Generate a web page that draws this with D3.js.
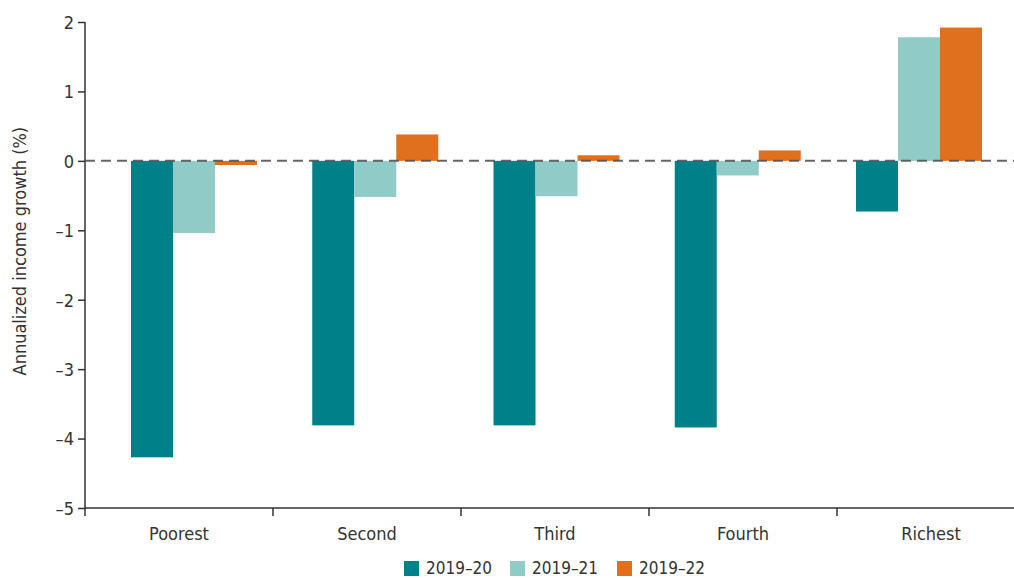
<!DOCTYPE html>
<head>
<meta charset="utf-8">
<title>Annualized income growth</title>
<script src="https://cdn.jsdelivr.net/npm/d3@7"></script>
<style>
	body { margin: 0; background: #fff; }
	svg text { font-family: "DejaVu Sans Condensed", "Liberation Sans Narrow", sans-serif; fill: #333; }
	.axis path, .axis line { stroke: #333; stroke-width: 1.5; }
</style>
</head>
<body>
<script>
var width = 1014;
var height = 578;
var margin = {top: 22, bottom: 70, left: 85, right: -11};

// data
var groups = ["Poorest", "Second", "Third", "Fourth", "Richest"];
var series = ["2019–20", "2019–21", "2019–22"];
var v2020 = [-4.27, -3.81, -3.81, -3.84, -0.73];
var v2021 = [-1.04, -0.52, -0.51, -0.21, 1.78];
var v2022 = [-0.06, 0.38, 0.08, 0.15, 1.92];
var yTicks = [-5, -4, -3, -2, -1, 0, 1, 2];
var colors = ["#00818a", "#90cbc8", "#e06f1e"];

var values = [v2020, v2021, v2022];
var dataset = [];
groups.forEach(function(g, i) {
	series.forEach(function(s, j) {
		dataset.push({group: g, series: s, value: values[j][i], color: colors[j]});
	});
});

var svg = d3.select("body").append("svg")
	.attr("width", width)
	.attr("height", height);

// axis categories (ticks at band edges) and bar groups (own spacing)
var x0 = d3.scaleBand().domain(groups).range([margin.left, width - margin.right]);
var xg = d3.scalePoint().domain(groups).range([131, 856]);
var x1 = d3.scaleBand().domain(series).range([0, 126]);
var y = d3.scaleLinear().domain([-5, 2]).range([height - margin.bottom, margin.top]);

// y axis
var yAxis = svg.append("g").attr("class", "axis")
	.attr("transform", "translate(" + margin.left + ",0)")
	.call(d3.axisLeft(y).tickValues(yTicks).tickSize(7).tickSizeOuter(0)
		.tickFormat(function(d) { return d < 0 ? "–" + Math.abs(d) : d; }));
yAxis.selectAll("text").style("font-size", "18px").attr("x", -11).attr("dy", "0.35em");
yAxis.select(".domain").attr("d", "M0," + y(-5) + "V" + y(2));

// x axis
var xAxis = svg.append("g").attr("class", "axis")
	.attr("transform", "translate(0," + y(-5) + ")");
xAxis.append("line").attr("x1", margin.left).attr("x2", width).attr("y1", 0).attr("y2", 0);
xAxis.selectAll(".tk").data(groups).enter().append("line")
	.attr("x1", function(d) { return x0(d); })
	.attr("x2", function(d) { return x0(d); })
	.attr("y1", 0).attr("y2", 8);
xAxis.selectAll(".lbl").data(groups).enter().append("text")
	.attr("x", function(d) { return x0(d) + x0.bandwidth() / 2; })
	.attr("y", 32)
	.attr("text-anchor", "middle")
	.style("font-size", "18px")
	.text(function(d) { return d; });

// bars
svg.selectAll("rect.bar").data(dataset).enter().append("rect")
	.attr("class", "bar")
	.attr("x", function(d) { return xg(d.group) + x1(d.series); })
	.attr("y", function(d) { return y(Math.max(0, d.value)); })
	.attr("width", x1.bandwidth())
	.attr("height", function(d) { return Math.abs(y(d.value) - y(0)); })
	.style("fill", function(d) { return d.color; });

// zero line
svg.append("line")
	.attr("x1", margin.left).attr("x2", width)
	.attr("y1", y(0)).attr("y2", y(0))
	.style("stroke", "#555").style("stroke-width", 2)
	.style("stroke-dasharray", "10,6")
	.style("opacity", 0.9);

// y title
svg.append("text")
	.attr("transform", "translate(26," + y(-1.3) + ") rotate(-90)")
	.attr("text-anchor", "middle")
	.style("font-size", "18px")
	.text("Annualized income growth (%)");

// legend
var legendX = [404, 510, 617];
var legend = svg.selectAll(".leg").data(series).enter().append("g")
	.attr("transform", function(d, i) { return "translate(" + legendX[i] + ",561)"; });
legend.append("rect").attr("width", 15).attr("height", 15)
	.style("fill", function(d, i) { return colors[i]; });
legend.append("text").attr("x", 22).attr("y", 13)
	.style("font-size", "17px")
	.text(function(d) { return d; });
</script>
</body>
